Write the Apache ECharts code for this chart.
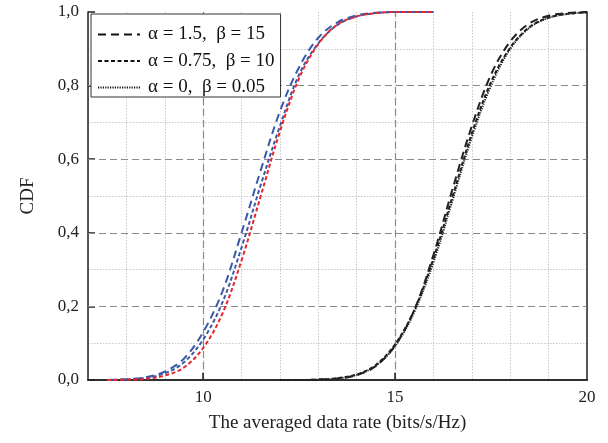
<!DOCTYPE html>
<html>
<head>
<meta charset="utf-8">
<script src="https://cdn.jsdelivr.net/npm/echarts@6/dist/echarts.min.js"></script>
<style>html,body{margin:0;padding:0;background:#fff;}#c{width:608px;height:443px;}</style>
</head>
<body>
<div id="c"></div>
<script>
// ---- data ----
const xLeft = [7.5, 8.0, 8.5, 9.0, 9.5, 10.0, 10.5, 11.0, 11.5, 12.0, 12.5, 13.0, 13.5, 14.0, 14.5, 15.0, 15.5, 16.0];
const blueA = [0.000, 0.002, 0.007, 0.023, 0.058, 0.13, 0.24, 0.40, 0.57, 0.73, 0.85, 0.93, 0.972, 0.991, 0.998, 1.0, 1.0, 1.0];
const blueB = [0.000, 0.0015, 0.006, 0.018, 0.048, 0.11, 0.21, 0.36, 0.53, 0.69, 0.83, 0.915, 0.965, 0.988, 0.997, 1.0, 1.0, 1.0];
const redC  = [0.000, 0.001, 0.003, 0.012, 0.034, 0.087, 0.18, 0.325, 0.50, 0.675, 0.82, 0.913, 0.966, 0.988, 0.997, 1.0, 1.0, 1.0];
const xRight = [12.0, 12.5, 13.0, 13.5, 14.0, 14.5, 15.0, 15.5, 16.0, 16.5, 17.0, 17.5, 18.0, 18.5, 19.0, 19.5, 20.0];
const blackA = [0.000, 0.000, 0.001, 0.004, 0.013, 0.038, 0.094, 0.19, 0.34, 0.52, 0.69, 0.83, 0.92, 0.969, 0.99, 0.997, 1.0];
const blackB = [0.000, 0.000, 0.001, 0.005, 0.015, 0.041, 0.097, 0.19, 0.33, 0.50, 0.67, 0.81, 0.903, 0.959, 0.985, 0.995, 0.999];
const blackC = [0.000, 0.000, 0.001, 0.004, 0.014, 0.039, 0.092, 0.185, 0.32, 0.49, 0.66, 0.80, 0.90, 0.957, 0.984, 0.995, 0.999];
const legendNames = ['\u03b1 = 1.5,  \u03b2 = 15', '\u03b1 = 0.75,  \u03b2 = 10', '\u03b1 = 0,  \u03b2 = 0.05'];
const xMajor = [10, 15];
const yMajor = [0.2, 0.4, 0.6, 0.8];

const FONT = 'Liberation Serif';
const pair = (xs, ys) => xs.map((x, i) => [x, ys[i]]);
const dashLong = [8, 5];
const dashMed = [4, 2.5];
const dashDot = [1.2, 1.2];

function curve(xs, ys, color, dash) {
  return {
    type: 'line', data: pair(xs, ys), showSymbol: false, symbol: 'none',
    smooth: 0.35, z: 3, silent: true,
    lineStyle: { color: color, width: 2, type: dash }
  };
}

const chart = echarts.init(document.getElementById('c'), null, { renderer: 'canvas', width: 608, height: 443 });
chart.setOption({
  animation: false,
  backgroundColor: '#fff',
  grid: { left: 88, right: 21, top: 12, bottom: 63 },
  legend: {
    left: 91, top: 14, orient: 'vertical', z: 10,
    backgroundColor: '#fff', borderColor: '#333', borderWidth: 1, borderRadius: 0,
    padding: [11, 6, 0, 6], itemWidth: 42, itemHeight: 14, itemGap: 7.5,
    selectedMode: false,
    itemStyle: { opacity: 0 },
    textStyle: { fontFamily: FONT, fontSize: 19, color: '#111', padding: [0, 0, 0, 3] },
    data: legendNames
  },
  xAxis: [{
    type: 'value', min: 7, max: 20, interval: 1,
    axisLine: { lineStyle: { color: '#222', width: 1.5 } },
    axisTick: { show: false },
    axisLabel: { fontFamily: FONT, fontSize: 17, color: '#222', margin: 9,
      formatter: v => (v % 5 === 0 ? String(v) : '') },
    splitLine: { show: true, lineStyle: { color: '#c8c8c8', width: 1, type: [1.5, 1.5] } },
    name: 'The averaged data rate (bits/s/Hz)', nameLocation: 'middle', nameGap: 34,
    nameTextStyle: { fontFamily: FONT, fontSize: 19, color: '#222' }
  }, {
    type: 'value', min: 7, max: 20, position: 'top',
    axisLine: { show: true, lineStyle: { color: '#222', width: 1.5 } },
    axisTick: { show: false }, axisLabel: { show: false }, splitLine: { show: false }
  }],
  yAxis: [{
    type: 'value', min: 0, max: 1, interval: 0.2,
    axisLine: { show: true, lineStyle: { color: '#222', width: 1.5 } },
    axisTick: { show: true, inside: true, length: 7, lineStyle: { color: '#222', width: 1.5 } },
    axisLabel: { fontFamily: FONT, fontSize: 17, color: '#222', margin: 9,
      formatter: v => v.toFixed(1).replace('.', ',') },
    splitLine: { show: false },
    minorTick: { show: false, splitNumber: 2 },
    minorSplitLine: { show: true, lineStyle: { color: '#c8c8c8', width: 1, type: [1.5, 1.5] } },
    name: 'CDF', nameLocation: 'middle', nameGap: 50,
    nameTextStyle: { fontFamily: FONT, fontSize: 19, color: '#222' }
  }, {
    type: 'value', min: 0, max: 1, position: 'right',
    axisLine: { show: true, lineStyle: { color: '#222', width: 1.5 } },
    axisTick: { show: false }, axisLabel: { show: false }, splitLine: { show: false }
  }],
  series: [
    {
      type: 'line', data: [], z: 1, silent: true,
      markLine: {
        z: 1, silent: true, symbol: 'none', label: { show: false }, animation: false,
        lineStyle: { color: '#8a8a8a', width: 1.2, type: [7, 4] },
        data: xMajor.map(v => ({ xAxis: v })).concat(yMajor.map(v => ({ yAxis: v })))
      }
    },
    {
      type: 'line', data: [], z: 2, silent: true,
      markLine: {
        z: 2, silent: true, symbol: 'none', label: { show: false }, animation: false,
        lineStyle: { color: '#222', width: 1.5, type: 'solid' },
        data: xMajor.map(v => [{ coord: [v, 0] }, { coord: [v, 0.02] }])
      }
    },
    { name: legendNames[0], type: 'line', data: [], symbol: 'none', lineStyle: { color: '#111', width: 2, type: dashLong }, itemStyle: { color: '#111' } },
    { name: legendNames[1], type: 'line', data: [], symbol: 'none', lineStyle: { color: '#111', width: 2, type: dashMed }, itemStyle: { color: '#111' } },
    { name: legendNames[2], type: 'line', data: [], symbol: 'none', lineStyle: { color: '#111', width: 1.5, type: dashDot }, itemStyle: { color: '#111' } },
    curve(xLeft, blueA, '#3a5aa8', dashLong),
    curve(xLeft, blueB, '#3a5aa8', dashMed),
    curve(xLeft, redC, '#e8252c', dashMed),
    curve(xRight, blackA, '#222', dashLong),
    curve(xRight, blackB, '#222', dashMed),
    curve(xRight, blackC, '#222', dashDot)
  ]
});
</script>
</body>
</html>
